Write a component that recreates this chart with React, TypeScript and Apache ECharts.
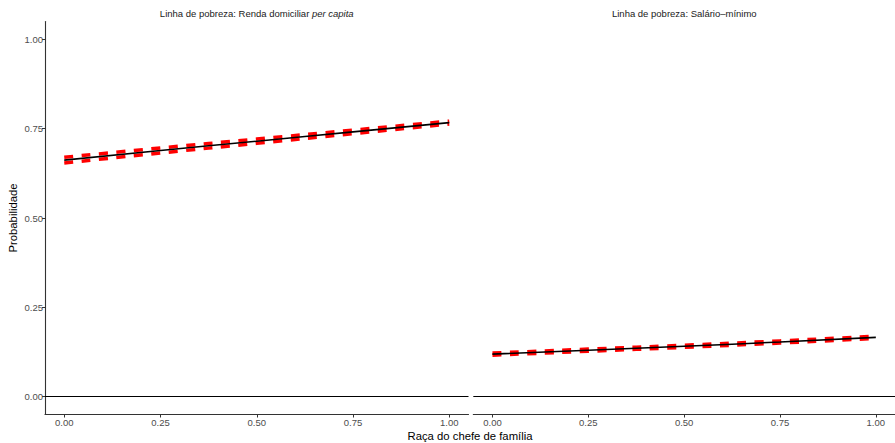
import React, { useEffect, useRef } from "react";
import * as echarts from "echarts";

const xValues = [0, 0.25, 0.5, 0.75, 1];
const xTicks = [0, 0.25, 0.5, 0.75, 1];
const yTicks = [0, 0.25, 0.5, 0.75, 1];

const panelTitles = ["Linha de pobreza: Renda domiciliar ", "Linha de pobreza: Salário–mínimo"];

// Panel 1: renda domiciliar per capita
const rendaFit = [0.662, 0.689, 0.715, 0.741, 0.767];
const rendaUpper = [0.670, 0.696, 0.721, 0.746, 0.771];
const rendaLower = [0.654, 0.682, 0.709, 0.736, 0.763];

// Panel 2: salário-mínimo
const salarioFit = [0.119, 0.130, 0.141, 0.153, 0.166];
const salarioUpper = [0.122, 0.133, 0.144, 0.156, 0.169];
const salarioLower = [0.116, 0.127, 0.138, 0.150, 0.163];

const FONT = "'Liberation Sans', Arial, Helvetica, sans-serif";

const pairs = (ys: number[]) => xValues.map((x, i) => [x, ys[i]]);

export default function App() {
  const ref = useRef<HTMLDivElement>(null);
  useEffect(() => {
    if (!ref.current) return;
    const chart = echarts.init(ref.current, undefined, { renderer: "svg" });
    const grids = [
      { left: 45, top: 21.5, width: 423.5, height: 393 },
      { left: 473.3, top: 21.5, width: 422, height: 393 },
    ];
    const axisColor = "#333333";
    const labelColor = "#4d4d4d";
    const xAxes = grids.map((_, i) => ({
      type: "value",
      gridIndex: i,
      min: -0.05,
      max: 1.05,
      axisLine: { show: true, onZero: false, lineStyle: { color: axisColor, width: 1.1 } },
      axisTick: { show: true, length: 3, lineStyle: { color: axisColor }, customValues: xTicks },
      axisLabel: {
        show: true,
        color: labelColor,
        fontSize: 9.5,
        fontFamily: FONT,
        margin: 3,
        customValues: xTicks,
        formatter: (v: number) => v.toFixed(2),
      },
      splitLine: { show: false },
    }));
    const yAxes = grids.map((_, i) => ({
      type: "value",
      gridIndex: i,
      min: -0.05,
      max: 1.05,
      axisLine: { show: i === 0, onZero: false, lineStyle: { color: axisColor, width: 1.1 } },
      axisTick: { show: i === 0, length: 3, lineStyle: { color: axisColor }, customValues: yTicks },
      axisLabel: {
        show: i === 0,
        color: labelColor,
        fontSize: 9.5,
        fontFamily: FONT,
        margin: 2,
        customValues: yTicks,
        formatter: (v: number) => v.toFixed(2),
      },
      splitLine: { show: false },
    }));

    const panelData = [
      [rendaFit, rendaUpper, rendaLower],
      [salarioFit, salarioUpper, salarioLower],
    ];
    const series: any[] = [];
    panelData.forEach(([fit, up, lo], i) => {
      [up, lo].forEach((b) => {
        series.push({
          type: "line",
          xAxisIndex: i,
          yAxisIndex: i,
          data: pairs(b),
          showSymbol: false,
          smooth: true,
          lineStyle: { color: "#ff0000", width: 3.5, type: [9, 8.5] },
          z: 2,
        });
      });
      series.push({
        type: "line",
        xAxisIndex: i,
        yAxisIndex: i,
        data: pairs(fit),
        showSymbol: false,
        smooth: true,
        lineStyle: { color: "#000000", width: 1.6 },
        z: 3,
        markLine: {
          silent: true,
          symbol: "none",
          label: { show: false },
          lineStyle: { color: "#000000", width: 1, type: "solid" },
          data: [{ yAxis: 0 }],
        },
      });
    });

    chart.setOption({
      animation: false,
      grid: grids,
      xAxis: xAxes,
      yAxis: yAxes,
      series,
      graphic: [
        {
          type: "text",
          x: 45 + 423.5 / 2,
          y: 13,
          style: {
            text: "{a|" + panelTitles[0] + "}{b|per capita}",
            align: "center",
            verticalAlign: "middle",
            rich: {
              a: { fontSize: 9.5, fontFamily: FONT, fill: "#1a1a1a" },
              b: { fontSize: 9.5, fontFamily: FONT, fill: "#1a1a1a", fontStyle: "italic" },
            },
          },
        },
        {
          type: "text",
          x: 473.3 + 422 / 2,
          y: 13,
          style: {
            text: panelTitles[1],
            align: "center",
            verticalAlign: "middle",
            fontSize: 9.5,
            fontFamily: FONT,
            fill: "#1a1a1a",
          },
        },
        {
          type: "text",
          x: 470,
          y: 436,
          style: {
            text: "Raça do chefe de família",
            align: "center",
            verticalAlign: "middle",
            fontSize: 11.3,
            fontFamily: FONT,
            fill: "#000000",
          },
        },
        {
          type: "text",
          x: 13,
          y: 218,
          rotation: Math.PI / 2,
          style: {
            text: "Probabilidade",
            align: "center",
            verticalAlign: "middle",
            fontSize: 11.3,
            fontFamily: FONT,
            fill: "#000000",
          },
        },
      ],
    });
    return () => chart.dispose();
  }, []);
  return <div ref={ref} style={{ width: 895, height: 443, position: "absolute", left: 0, top: 0 }} />;
}
